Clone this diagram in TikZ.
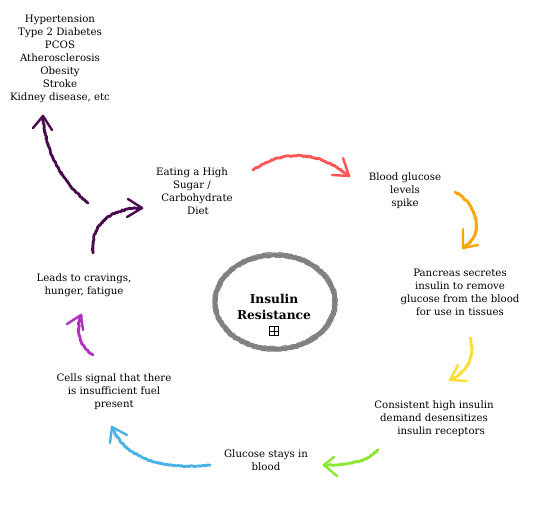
\documentclass[tikz,border=0pt]{standalone}
\usepackage{fontspec}
\setmainfont{DejaVu Serif}
\usetikzlibrary{decorations.pathmorphing}
\definecolor{cred}{HTML}{FF5555}
\definecolor{corange}{HTML}{FFA500}
\definecolor{cyellow}{HTML}{FFDD33}
\definecolor{cgreen}{HTML}{8AE832}
\definecolor{cblue}{HTML}{4AB2E6}
\definecolor{cmag}{HTML}{B030C0}
\definecolor{cpurple}{HTML}{4A0A50}
\definecolor{cgray}{HTML}{808080}
\tikzset{
  lbl/.style={align=center, font=\fontsize{10.2}{12.9}\selectfont, inner sep=0pt},
  rough/.style={line width=2.8pt, line cap=round, line join=round,
    decorate, decoration={random steps, segment length=1.2pt, amplitude=0.6pt}},
  chev/.style={line width=2.4pt, line cap=round, line join=round},
  thinrough/.style={line width=1.2pt, line join=round,
    decorate, decoration={random steps, segment length=1.5pt, amplitude=0.6pt}},
  plusbox/.style={draw, line width=0.7pt, minimum size=9pt, inner sep=0pt,
    path picture={\draw[line width=0.7pt] (path picture bounding box.north) -- (path picture bounding box.south)
      (path picture bounding box.west) -- (path picture bounding box.east);}},
}
\begin{document}
\begin{tikzpicture}[x=1pt,y=-1pt]
\useasboundingbox (0,0) rectangle (535,517);

% texts
\node[lbl] (list) at (60,59) {Hypertension\\Type 2 Diabetes\\PCOS\\Atherosclerosis\\Obesity\\Stroke\\Kidney disease, etc};
\node[lbl] (eat) at (192,191) {Eating a High\\Sugar /\\\hspace*{10pt}Carbohydrate\\\hspace*{12pt}Diet};
\node[lbl] (spike) at (405,191) {Blood glucose\\levels\\spike};
\node[lbl] (panc) at (460,292) {Pancreas secretes\\insulin to remove\\glucose from the blood\\for use in tissues};
\node[lbl] (cons) at (434,419) {Consistent high insulin\\demand desensitizes\\\hspace*{14pt}insulin receptors};
\node[lbl] (stays) at (266,460) {Glucose stays in\\blood};
\node[lbl] (cells) at (114,392) {Cells signal that there\\is insufficient fuel\\present};
\node[lbl] (leads) at (84,285) {Leads to cravings,\\hunger, fatigue};

% central circle
\draw[cgray, line width=3.6pt] (275,302) ellipse [x radius=60, y radius=47];
\draw[cgray, thinrough] (275,302) ellipse [x radius=62, y radius=49];
\draw[cgray, thinrough] (275,302) ellipse [x radius=58, y radius=45];
\node[align=center, inner sep=0pt, font=\bfseries\fontsize{12.2}{16.5}\selectfont] (ir) at (274,307) {Insulin\\Resistance};
\node[plusbox] (plus) at (274,331) {};

% red
\coordinate (r1) at (253,170); \coordinate (r2) at (349,176);
\draw[cred, rough] (r1) .. controls (285,148) and (320,152) .. (r2);
\draw[cred, chev] (343,158) -- (r2) -- (332,175);
% orange
\coordinate (o1) at (455,192); \coordinate (o2) at (463,248);
\draw[corange, rough] (o1) .. controls (478,205) and (485,235) .. (o2);
\draw[corange, chev] (463,229) -- (o2) -- (478,245);
% yellow
\coordinate (y1) at (470,338); \coordinate (y2) at (450,380);
\draw[cyellow, rough] (y1) .. controls (476,355) and (468,372) .. (y2);
\draw[cyellow, chev] (458,365) -- (y2) -- (467,381);
% green
\coordinate (g1) at (378,450); \coordinate (g2) at (324,465);
\draw[cgreen, rough] (g1) .. controls (365,463) and (345,465) .. (g2);
\draw[cgreen, chev] (334,457) -- (g2) -- (337,476);
% blue
\coordinate (b1) at (210,465); \coordinate (b2) at (112,427);
\draw[cblue, rough] (b1) .. controls (160,470) and (125,458) .. (b2);
\draw[cblue, chev] (110,443) -- (b2) -- (127,435);
% magenta
\coordinate (m1) at (93,355); \coordinate (m2) at (81,315);
\draw[cmag, rough] (m1) .. controls (78,345) and (76,330) .. (m2);
\draw[cmag, chev] (67,324) -- (m2) -- (83,330);
% purple upper
\coordinate (p1) at (88,203); \coordinate (p2) at (43,116);
\draw[cpurple, rough] (p1) .. controls (60,180) and (45,150) .. (p2);
\draw[cpurple, chev] (33,128) -- (p2) -- (52,130);
% purple lower
\coordinate (q1) at (93,253); \coordinate (q2) at (142,208);
\draw[cpurple, rough] (q1) .. controls (90,225) and (110,208) .. (q2);
\draw[cpurple, chev] (128,199) -- (q2) -- (127,217);
\end{tikzpicture}
\end{document}
